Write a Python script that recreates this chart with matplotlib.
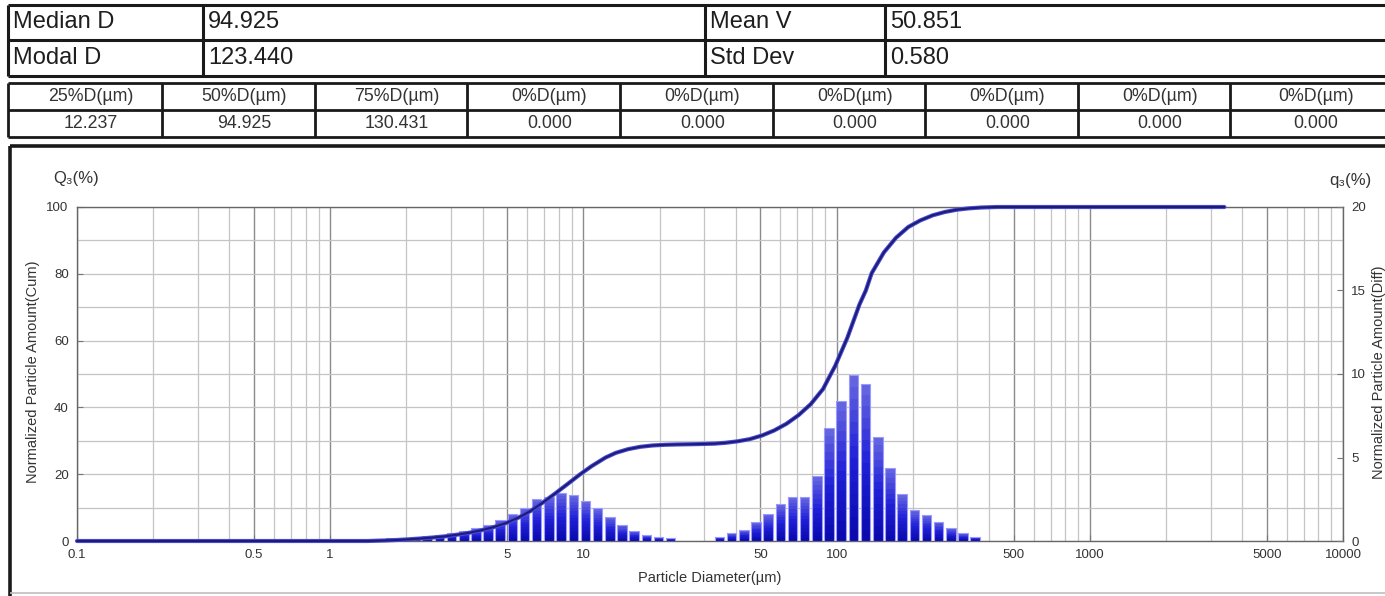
import numpy as np
import matplotlib
matplotlib.use("Agg")
import matplotlib.pyplot as plt
from matplotlib.lines import Line2D
from matplotlib.ticker import LogLocator, NullFormatter, MultipleLocator
from matplotlib.colors import LinearSegmentedColormap

plt.rcParams['font.family'] = ['Liberation Sans', 'DejaVu Sans']

# ---------------- summary statistics ----------------
stat_names_a = ["Median D", "Modal D"]
stat_values_a = ["94.925", "123.440"]
stat_names_b = ["Mean V", "Std Dev"]
stat_values_b = ["50.851", "0.580"]

pct_headers = ["25%D(µm)", "50%D(µm)", "75%D(µm)", "0%D(µm)", "0%D(µm)",
               "0%D(µm)", "0%D(µm)", "0%D(µm)", "0%D(µm)"]
pct_values = ["12.237", "94.925", "130.431", "0.000", "0.000",
              "0.000", "0.000", "0.000", "0.000"]

# ---------------- size distribution ----------------
# bin centre diameters (µm) and differential amount q3 (%)
bin_diam = [1.55, 1.73, 1.93, 2.16, 2.41, 2.70, 3.01, 3.37, 3.76, 4.20,
            4.69, 5.24, 5.86, 6.54, 7.31, 8.17, 9.12, 10.19, 11.38, 12.72,
            14.21, 15.87, 17.73, 19.81, 22.13, 24.72, 27.61, 30.84, 34.45, 38.49,
            43.00, 48.04, 53.67, 59.95, 66.98, 74.82, 83.59, 93.37, 104.3, 116.5,
            130.2, 145.4, 162.4, 181.5, 202.7, 226.5, 253.0, 282.7, 315.8, 352.8]
q3_diff = [0.10, 0.15, 0.20, 0.26, 0.30, 0.36, 0.46, 0.62, 0.76, 0.96,
           1.26, 1.64, 1.98, 2.50, 2.65, 2.90, 2.75, 2.38, 1.96, 1.44,
           0.95, 0.60, 0.33, 0.22, 0.16, 0.00, 0.00, 0.00, 0.26, 0.46,
           0.66, 1.12, 1.60, 2.20, 2.65, 2.65, 3.90, 6.75, 8.40, 9.95,
           9.40, 6.20, 4.40, 2.80, 1.85, 1.55, 1.16, 0.76, 0.46, 0.26]

# cumulative undersize Q3 (%)
cum_diam = [0.1, 1.40, 1.64, 1.83, 2.04, 2.28, 2.55, 2.85, 3.18, 3.56,
            3.97, 4.44, 4.96, 5.54, 6.19, 6.91, 7.73, 8.64, 9.64, 10.77,
            12.237, 13.44, 15.02, 16.77, 18.74, 20.94, 23.39, 28.0, 33.0, 36.4,
            40.7, 45.4, 50.8, 56.7, 63.4, 70.8, 79.1, 88.4, 94.925, 98.7,
            110.2, 123.1, 130.431, 137.6, 153.7, 171.7, 191.8, 214.3, 239.4, 267.4,
            298.8, 333.8, 372.9, 430.0, 3400.0]
cum_Q3 = [0.0, 0.0, 0.15, 0.3, 0.5, 0.75, 1.05, 1.4, 1.9, 2.5,
          3.25, 4.2, 5.4, 7.0, 9.0, 11.5, 14.2, 17.0, 19.8, 22.4,
          25.0, 26.4, 27.5, 28.2, 28.6, 28.8, 28.9, 29.0, 29.15, 29.4,
          29.85, 30.5, 31.6, 33.1, 35.1, 37.7, 41.0, 45.5, 50.0, 52.4,
          60.8, 70.8, 75.0, 80.2, 86.4, 90.8, 94.0, 96.0, 97.5, 98.5,
          99.2, 99.6, 99.85, 100.0, 100.0]

xtick_values = [0.1, 0.5, 1, 5, 10, 50, 100, 500, 1000, 5000, 10000]
xtick_labels = ["0.1", "0.5", "1", "5", "10", "50", "100", "500", "1000", "5000", "10000"]
left_ticks = [0, 20, 40, 60, 80, 100]
right_ticks = [0, 5, 10, 15, 20]

# ---------------- figure & pixel helpers ----------------
W, H = 1385, 596
fig = plt.figure(figsize=(W / 100, H / 100), dpi=100)
fig.patch.set_facecolor('white')


def fx(x):
    return x / W


def fy(y):
    return 1 - y / H


def hline(x0, x1, y, lw=2.2, color='#1a1a1a'):
    fig.add_artist(Line2D([fx(x0), fx(x1)], [fy(y), fy(y)],
                          transform=fig.transFigure, lw=lw, color=color,
                          solid_capstyle='butt'))


def vline(x, y0, y1, lw=2.2, color='#1a1a1a'):
    fig.add_artist(Line2D([fx(x), fx(x)], [fy(y0), fy(y1)],
                          transform=fig.transFigure, lw=lw, color=color,
                          solid_capstyle='butt'))


TXT = '#1e1e1e'

# ---------------- statistics table ----------------
t1_top, t1_mid, t1_bot = 5, 40, 76
t1_left, t1_right = 8, 1390
for y in (t1_top, t1_mid, t1_bot):
    hline(t1_left, t1_right, y)
for x in (t1_left, 203, 705, 885):
    vline(x, t1_top, t1_bot)
for i, y in enumerate([(t1_top + t1_mid) / 2, (t1_mid + t1_bot) / 2]):
    fig.text(fx(13), fy(y), stat_names_a[i], fontsize=17, color=TXT, va='center', ha='left')
    fig.text(fx(208), fy(y), stat_values_a[i], fontsize=17, color=TXT, va='center', ha='left')
    fig.text(fx(710), fy(y), stat_names_b[i], fontsize=17, color=TXT, va='center', ha='left')
    fig.text(fx(890), fy(y), stat_values_b[i], fontsize=17, color=TXT, va='center', ha='left')

# ---------------- percentile table ----------------
t2_top, t2_mid, t2_bot = 83, 110, 137
col_edges = [8, 162, 315, 467, 620, 773, 925, 1078, 1230, 1390]
for y in (t2_top, t2_mid, t2_bot):
    hline(8, 1390, y, lw=2.0)
for x in col_edges[:-1]:
    vline(x, t2_top, t2_bot, lw=2.0)
for i in range(9):
    cx = (col_edges[i] + col_edges[i + 1]) / 2 + 6
    fig.text(fx(cx), fy((t2_top + t2_mid) / 2), pct_headers[i], fontsize=12.8,
             color='#333333', ha='center', va='center')
    fig.text(fx(cx), fy((t2_mid + t2_bot) / 2), pct_values[i], fontsize=12.8,
             color='#333333', ha='center', va='center')

# ---------------- chart panel frame ----------------
vline(10, 146, 596, lw=2.6)
hline(10, 1390, 146, lw=2.6)
hline(10, 1390, 593, lw=1.2, color='#bdbdbd')

# ---------------- axes ----------------
ax = fig.add_axes([fx(77), 55 / H, (1343 - 77) / W, (541 - 207) / H])
ax.set_xscale('log')
ax.set_xlim(0.1, 10000)
ax.set_ylim(0, 100)
ax.set_xticks(xtick_values)
ax.set_xticklabels(xtick_labels)
ax.xaxis.set_minor_locator(LogLocator(base=10, subs=np.arange(2, 10)))
ax.xaxis.set_minor_formatter(NullFormatter())
ax.set_yticks(left_ticks)
ax.yaxis.set_minor_locator(MultipleLocator(10))
ax.grid(which='major', axis='x', color='#8a8a8a', lw=1.0)
ax.grid(which='minor', axis='x', color='#c4c4c4', lw=0.9)
ax.grid(which='both', axis='y', color='#c4c4c4', lw=0.9)
ax.set_axisbelow(True)
ax.tick_params(which='major', direction='in', length=4, color='#777777',
               labelsize=9.5, labelcolor='#333333', pad=6)
ax.tick_params(which='minor', length=0)
for s in ax.spines.values():
    s.set_color('#666666')
    s.set_linewidth(1.0)

# differential bars on the right-hand scale
ax2 = ax.twinx()
ax2.set_ylim(0, 20)
ax2.set_yticks(right_ticks)
ax2.tick_params(direction='in', length=4, color='#777777', labelsize=9.5,
                labelcolor='#333333', pad=6)
for s in ax2.spines.values():
    s.set_visible(False)

d = np.asarray(bin_diam)
h = np.asarray(q3_diff)
logd = np.log10(d)
step = np.median(np.diff(logd))
half = 0.39 * step
left_edge = 10 ** (logd - half)
right_edge = 10 ** (logd + half)
widths = right_edge - left_edge
keep = h > 0
cmap = LinearSegmentedColormap.from_list('barfill', ['#0a0aae', '#2020d8', '#6464e0'])
n_seg = 14
for k in range(n_seg):
    ax2.bar(left_edge[keep], h[keep] / n_seg, width=widths[keep],
            bottom=h[keep] * k / n_seg, align='edge', color=cmap(k / (n_seg - 1)),
            linewidth=0, zorder=2)
ax2.bar(left_edge[keep], h[keep], width=widths[keep], align='edge',
        facecolor='none', edgecolor='#9a9aff', linewidth=0.8, zorder=3)

# cumulative curve on the left-hand scale, drawn on top
ax3 = ax.twinx()
ax3.set_ylim(0, 100)
ax3.set_axis_off()
ax3.plot(cum_diam, cum_Q3, color='#4a4ad4', lw=3.0, solid_capstyle='round',
         solid_joinstyle='round', clip_on=False)
ax3.plot(cum_diam, cum_Q3, color='#1c1c78', lw=1.5, solid_capstyle='round',
         solid_joinstyle='round', clip_on=False)

# ---------------- axis captions ----------------
fig.text(fx(76), fy(178), "Q₃(%)", fontsize=12, color='#333333', ha='center', va='center')
fig.text(fx(1350), fy(180), "q₃(%)", fontsize=12, color='#333333', ha='center', va='center')
fig.text(fx(33), fy(372), "Normalized Particle Amount(Cum)", rotation=90,
         fontsize=10.5, color='#333333', ha='center', va='center')
fig.text(fx(1379), fy(372), "Normalized Particle Amount(Diff)", rotation=90,
         fontsize=10.5, color='#333333', ha='center', va='center')
fig.text(fx(710), fy(578), "Particle Diameter(µm)", fontsize=10.5,
         color='#333333', ha='center', va='center')

fig.savefig('out.png', dpi=100)
